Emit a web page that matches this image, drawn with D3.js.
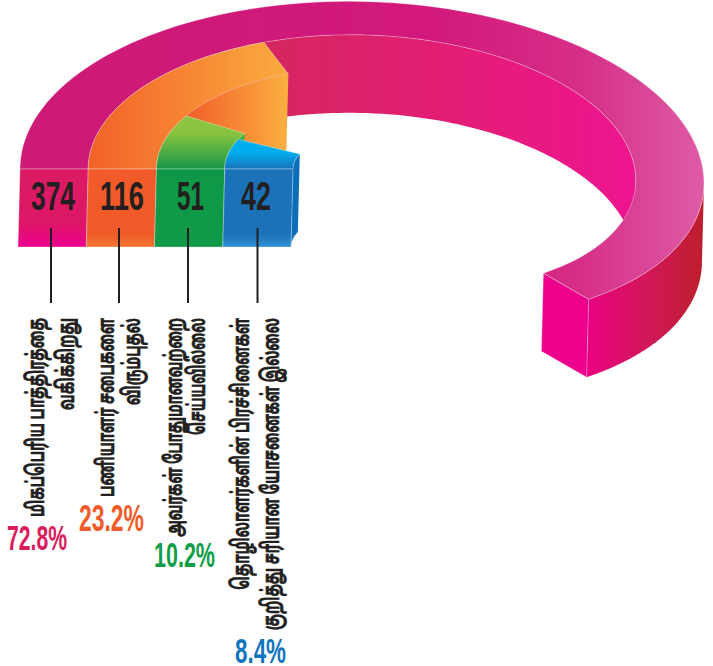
<!DOCTYPE html>
<html><head><meta charset="utf-8">
<style>html,body{margin:0;padding:0;background:#fff}svg{display:block}</style>
<script src="https://cdnjs.cloudflare.com/ajax/libs/d3/7.8.5/d3.min.js"></script>
</head><body><div id="c"></div>
<script>
const counts = [374, 116, 51, 42];
const percents = ["72.8%", "23.2%", "10.2%", "8.4%"];
const labelLine1 = ["மிகப்பெரிய பாத்திரத்தை", "பணியாளர் சபைகளை", "அவர்கள் போதுமானவற்றை", "தொழிலாளர்களின் பிரச்சினைகள்"];
const labelLine2 = ["வகிக்கிறது", "விரும்புதல்", "செய்யவில்லை", "குறித்து சரியான யோசனைகள் இல்லை"];
const pctColors = ["#da1c5c", "#f15a29", "#0f9d48", "#0f75bc"];
const ids = ["pink", "orange", "green", "blue"];

const W = 713, H = 666, cx = 362, cy = 169, squash = 0.5, sag = 0.0102, endA = 228.5;
const depth = {x: -2, y: 78};
const svg = d3.select("#c").append("svg").attr("width", W).attr("height", H);
const defs = svg.append("defs");

const angle = d3.scaleLinear().domain([0, 42, 51, 116, 374]).range([0, 25.7, 31.2, 69, endA]);
// track index -> outer radius (index 4 is the inner hole)
const radius = d3.scaleLinear().domain([0, 4]).range([342, 69]);

function pt(r, deg, shifted) {
  const a = deg * Math.PI / 180, c = 1 - Math.cos(a);
  let bump = sag * r * c * c;
  if (deg > 180) { const t = (deg - 180) / (endA - 180); bump = 4 * sag * r * (1 - 0.85 * t * t); }
  return [cx - r * Math.cos(a) + (shifted ? depth.x : 0),
          cy - r * squash * Math.sin(a) + bump + (shifted ? depth.y : 0)];
}
const arcPts = (r, a0, a1, shifted) => d3.range(0, 121).map(i => pt(r, a0 + (a1 - a0) * i / 120, shifted));
const line = d3.line();
const closed = pts => line(pts) + "Z";

function grad(id, stops, x1, y1, x2, y2) {
  const g = defs.append("linearGradient").attr("id", id).attr("gradientUnits", "userSpaceOnUse")
    .attr("x1", x1).attr("y1", y1).attr("x2", x2).attr("y2", y2);
  stops.forEach(s => g.append("stop").attr("offset", s[0]).attr("stop-color", s[1]));
}
grad("pinkTop", [[0,"#cd1a76"],[.6,"#d2187c"],[.82,"#d62e87"],[1,"#de5ba6"]], 20,0,703,0);
grad("pinkWall", [[0,"#d5265f"],[.5,"#e31d76"],[1,"#ee1590"]], 265,0,635,0);
grad("pinkOuter", [[0,"#ea0082"],[.5,"#d2175a"],[1,"#be1e2d"]], 587,0,703,0);
grad("orangeTop", [[0,"#f26129"],[1,"#fbac3f"]], 88,0,290,0);
grad("orangeWall", [[0,"#f15a29"],[1,"#fbb040"]], 182,0,288,0);
grad("greenTop", [[0,"#8dc63f"],[.3,"#8ac43f"],[1,"#139648"]], 0,117,0,170);
grad("blueTop", [[0,"#00aeef"],[.4,"#00aeef"],[1,"#1a6fb8"]], 0,140,0,170);
grad("frontPink", [[0,"#da1b62"],[.7,"#dd1766"],[1,"#ec008c"]], 0,168,0,246);
grad("frontOrange", [[0,"#f15a29"],[.85,"#f15a29"],[1,"#f4762e"]], 0,168,0,246);
grad("frontGreen", [[0,"#0f9747"],[1,"#0f9a48"]], 0,168,0,246);
grad("frontBlue", [[0,"#1b72b9"],[.85,"#1b72b9"],[1,"#2c8fd0"]], 0,168,0,246);
const fills = {
  pink:   {top:"url(#pinkTop)", wall:"url(#pinkWall)", front:"url(#frontPink)"},
  orange: {top:"url(#orangeTop)", wall:"url(#orangeWall)", front:"url(#frontOrange)"},
  green:  {top:"url(#greenTop)", wall:"#3fae49", front:"url(#frontGreen)"},
  blue:   {top:"url(#blueTop)", wall:"#0a6fb8", front:"url(#frontBlue)"}
};
const edge = "rgba(255,255,255,0.4)";
const g = svg.append("g");

counts.forEach((v, i) => {
  const span = angle(v), rO = radius(i), rI = radius(i + 1), f = fills[ids[i]];
  const wallEnd = Math.min(span, 180);
  g.append("path").attr("d", closed(arcPts(rI, 0, wallEnd, false).concat(arcPts(rI, wallEnd, 0, true)))).attr("fill", f.wall);
  if (span > 180) {
    g.append("path").attr("d", closed(arcPts(rO, 180, span, false).concat(arcPts(rO, span, 180, true)))).attr("fill", "url(#pinkOuter)");
    g.append("path").attr("d", closed([pt(rI, span), pt(rO, span), pt(rO, span, true), pt(rI, span, true)]))
      .attr("fill", "#ec008c").attr("stroke", edge).attr("stroke-width", 0.8);
  }
  g.append("path").attr("d", closed(arcPts(rO, 0, span, false).concat(arcPts(rI, span, 0, false))))
    .attr("fill", f.top).attr("stroke", edge).attr("stroke-width", 0.8);
});
counts.forEach((v, i) => {
  const rO = radius(i), rI = radius(i + 1);
  g.append("path").attr("d", closed([pt(rO, 0), pt(rI, 0), pt(rI, 0, true), pt(rO, 0, true)]))
    .attr("fill", fills[ids[i]].front).attr("stroke", edge).attr("stroke-width", 0.8);
});

const numWidth = [44, 44, 27, 30];
const numX = [53, 122, 190.5, 256];
const stemX = [51, 119, 188, 257.5];
const pctWidth = [60, 65, 61, 51];
const pctX = [38, 112.5, 185.5, 261.5];
const pctBase = [550, 531, 567, 663];
const l1X = [37, 107, 175, 242], l2X = [67, 133, 198, 272];
const l1Len = [199, 179, 219, 272], l2Len = [92, 87, 117, 312];
const numFont = "'Liberation Sans Narrow','Liberation Sans',Arial,sans-serif";
const tamil = "'Noto Sans Tamil','Lohit Tamil','Noto Sans','Liberation Sans',sans-serif";

function fit(sel, base, len) {
  const n = sel.node().getComputedTextLength();
  sel.attr("transform", `${base} scale(${len / n},1)`);
}

counts.forEach((v, i) => {
  g.append("line").attr("x1", stemX[i]).attr("x2", stemX[i]).attr("y1", 228).attr("y2", 303)
    .attr("stroke", "#231f20").attr("stroke-width", 2);
  fit(g.append("text").attr("text-anchor", "middle")
    .attr("font-family", numFont).attr("font-weight", 700).attr("font-size", 40).attr("fill", "#231f20").text(v),
    `translate(${numX[i]},210)`, numWidth[i]);
  fit(g.append("text").attr("text-anchor", "middle")
    .attr("font-family", numFont).attr("font-weight", 700).attr("font-size", 36).attr("fill", pctColors[i]).text(percents[i]),
    `translate(${pctX[i] - 1},${pctBase[i]})`, pctWidth[i]);
  [[labelLine1[i], l1X[i], l1Len[i]], [labelLine2[i], l2X[i], l2Len[i]]].forEach(d => {
    fit(g.append("text").attr("text-anchor", "end")
      .attr("font-family", tamil).attr("font-weight", 700).attr("font-size", 24).attr("fill", "#231f20")
      .attr("stroke", "#231f20").attr("stroke-width", 0.6).text(d[0]),
      `translate(${d[1] + 7},318) rotate(-90)`, d[2]);
  });
});
</script></body></html>
